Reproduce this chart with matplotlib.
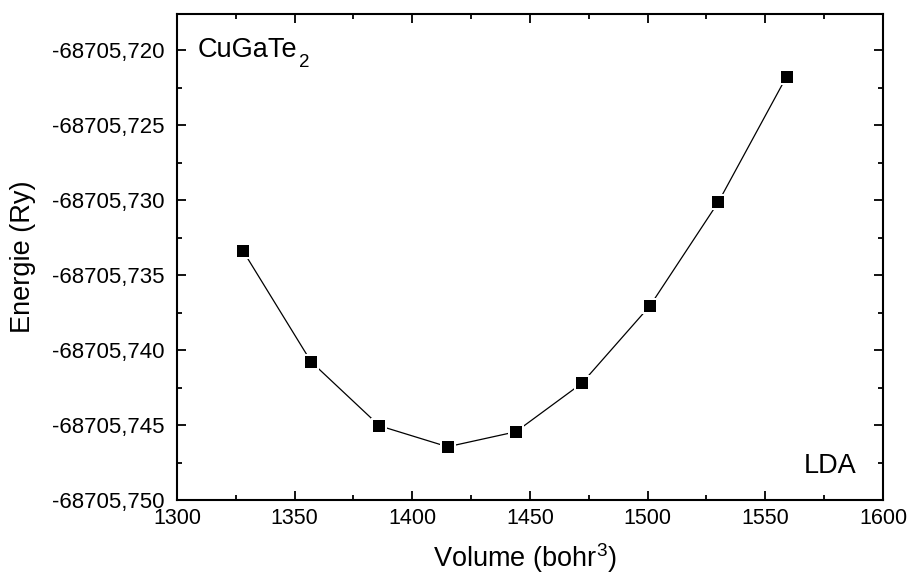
import numpy as np
import matplotlib
matplotlib.use("Agg")
import matplotlib.pyplot as plt
from matplotlib.ticker import MultipleLocator, FuncFormatter

# données
volume = [1328, 1357, 1386, 1415, 1444, 1472, 1501, 1530, 1559]
energie = [-68705.73338, -68705.74078, -68705.74505, -68705.74645, -68705.74545,
           -68705.74222, -68705.73705, -68705.73015, -68705.72178]

plt.rcParams['font.family'] = ['Liberation Sans', 'DejaVu Sans']
plt.rcParams['mathtext.fontset'] = 'custom'
plt.rcParams['mathtext.rm'] = 'Liberation Sans'
plt.rcParams['mathtext.it'] = 'Liberation Sans'

fig = plt.figure(figsize=(9.09, 5.76), dpi=100)
ax = fig.add_axes([0.1947, 0.1319, 0.7767, 0.8438])

ax.plot(volume, energie, '-', color='black', lw=0.9, zorder=2)
# petit espace blanc autour des carrés (style Origin)
ax.plot(volume, energie, 's', color='white', ms=11, mew=0, zorder=3)
ax.plot(volume, energie, 's', color='black', ms=8, mew=0, zorder=4)

ax.set_xlim(1300, 1600)
ax.set_ylim(-68705.750, -68705.7176)

ax.xaxis.set_major_locator(MultipleLocator(50))
ax.xaxis.set_minor_locator(MultipleLocator(25))
ax.yaxis.set_major_locator(MultipleLocator(0.005))
ax.yaxis.set_minor_locator(MultipleLocator(0.0025))
ax.yaxis.set_major_formatter(FuncFormatter(lambda v, p: f"{v:.3f}".replace('.', ',')))

for s in ax.spines.values():
    s.set_linewidth(1.5)
ax.tick_params(which='both', direction='in', top=True, right=True, width=1.3)
ax.tick_params(which='major', length=6.5)
ax.tick_params(which='minor', length=3.8)
ax.tick_params(axis='x', which='major', labelsize=15.5, pad=6)
ax.tick_params(axis='y', which='major', labelsize=16, pad=9)

ax.set_xlabel("Volume (bohr$^3$)", fontsize=19.5)
ax.set_ylabel("Energie (Ry)", fontsize=19.5)
ax.xaxis.set_label_coords(0.493, -0.085)
ax.yaxis.set_label_coords(-0.2, 0.5)

t1 = ax.text(0.0297, 0.9115, "CuGaTe", transform=ax.transAxes, fontsize=19.5,
             va='baseline', ha='left')
ax.annotate("2", xy=(1, 0), xycoords=t1, xytext=(1, -3), textcoords='offset points',
            fontsize=13.5, va='baseline', ha='left')
ax.text(0.963, 0.0556, "LDA", transform=ax.transAxes, fontsize=19.5,
        va='baseline', ha='right')

fig.savefig("out.png", dpi=100)
